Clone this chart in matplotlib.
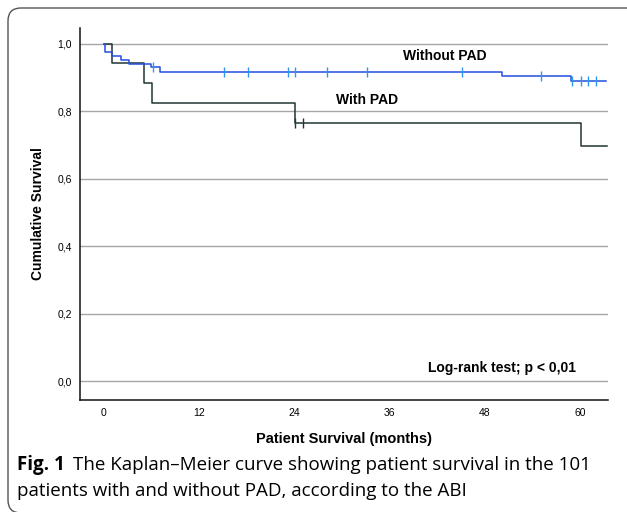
import matplotlib
matplotlib.use("Agg")
import matplotlib.pyplot as plt
from matplotlib.patches import FancyBboxPatch
from matplotlib.transforms import IdentityTransform

# Kaplan-Meier steps (months, survival)
without_t = [0, 0.2, 1.05, 2.2, 3.15, 6.0, 7.05, 50.1, 58.8, 63.3]
without_s = [1.0, 0.976, 0.964, 0.952, 0.940, 0.929, 0.917, 0.904, 0.890, 0.890]
without_cens = [6.2, 15.1, 18.2, 23.2, 24.1, 28.1, 33.1, 45.1, 55.0, 59.0, 60.1, 61.0, 62.0]

with_t = [0, 1.05, 5.1, 6.1, 24.1, 60.1, 63.4]
with_s = [1.0, 0.941, 0.882, 0.824, 0.765, 0.696, 0.696]
with_cens = [24.1, 25.1]

xticks = [0, 12, 24, 36, 48, 60]
yticks = [0.0, 0.2, 0.4, 0.6, 0.8, 1.0]
ytick_labels = ['0,0', '0,2', '0,4', '0,6', '0,8', '1,0']


def surv_at(ts, ss, t):
    v = ss[0]
    for ti, si in zip(ts, ss):
        if ti <= t:
            v = si
    return v


fig = plt.figure(figsize=(6.27, 5.12), dpi=100)
ax = fig.add_axes([80/627, 112/512, 528/627, 372/512])

blue = '#2350dc'
blue_c = '#2f98ea'
dark = '#1f3634'

for y in yticks:
    ax.axhline(y, color='#a6a6a6', lw=1.0, zorder=1)

ax.step(with_t, with_s, where='post', color=dark, lw=1.1, zorder=3)
ax.step(without_t, without_s, where='post', color=blue, lw=1.1, zorder=4)
ax.plot(with_cens, [surv_at(with_t, with_s, t) for t in with_cens], ls='none',
        marker='|', ms=7, mew=1.0, color=dark, zorder=5)
ax.plot(without_cens, [surv_at(without_t, without_s, t) for t in without_cens], ls='none',
        marker='|', ms=7, mew=1.0, color=blue_c, zorder=5)

ax.set_xlim(-3.0, 63.5)
ax.set_ylim(-0.056, 1.046)
ax.set_xticks(xticks)
ax.set_yticks(yticks)
ax.set_yticklabels(ytick_labels)
ax.tick_params(length=0, labelsize=7.5, pad=6)
for s in ['top', 'right']:
    ax.spines[s].set_visible(False)
for s in ['left', 'bottom']:
    ax.spines[s].set_linewidth(1.1)
    ax.spines[s].set_color('#111111')

lab = dict(family='Liberation Sans', fontweight='bold')
ax.set_ylabel('Cumulative Survival', fontsize=10, labelpad=9, **lab)
ax.set_xlabel('Patient Survival (months)', fontsize=10.5, labelpad=10, **lab)
for t in ax.get_xticklabels() + ax.get_yticklabels():
    t.set_family('Liberation Sans')

ax.text(43.0, 0.963, 'Without PAD', fontsize=10, ha='center', va='center', **lab)
ax.text(33.2, 0.832, 'With PAD', fontsize=10, ha='center', va='center', **lab)
ax.text(59.5, 0.040, 'Log-rank test; p < 0,01', fontsize=10, ha='right', va='center', **lab)

# caption
cap = fig.text(17/627, 1 - 465/512, 'Fig. 1', fontsize=13.5, fontweight='bold',
               family='Open Sans', va='center', ha='left')
ax.annotate('The Kaplan\u2013Meier curve showing patient survival in the 101',
            xy=(1, 0.5), xycoords=cap, xytext=(6, 0), textcoords='offset points',
            fontsize=13.5, family='Open Sans', va='center', ha='left',
            annotation_clip=False)
fig.text(17/627, 1 - 491/512, 'patients with and without PAD, according to the ABI',
         fontsize=13.5, family='Open Sans', va='center', ha='left')

border = FancyBboxPatch((8, -1), 720, 505, boxstyle='round,pad=0,rounding_size=13',
                        transform=IdentityTransform(), fill=False, ec='#555555', lw=1.0)
fig.add_artist(border)

fig.savefig('out.png', dpi=100)
